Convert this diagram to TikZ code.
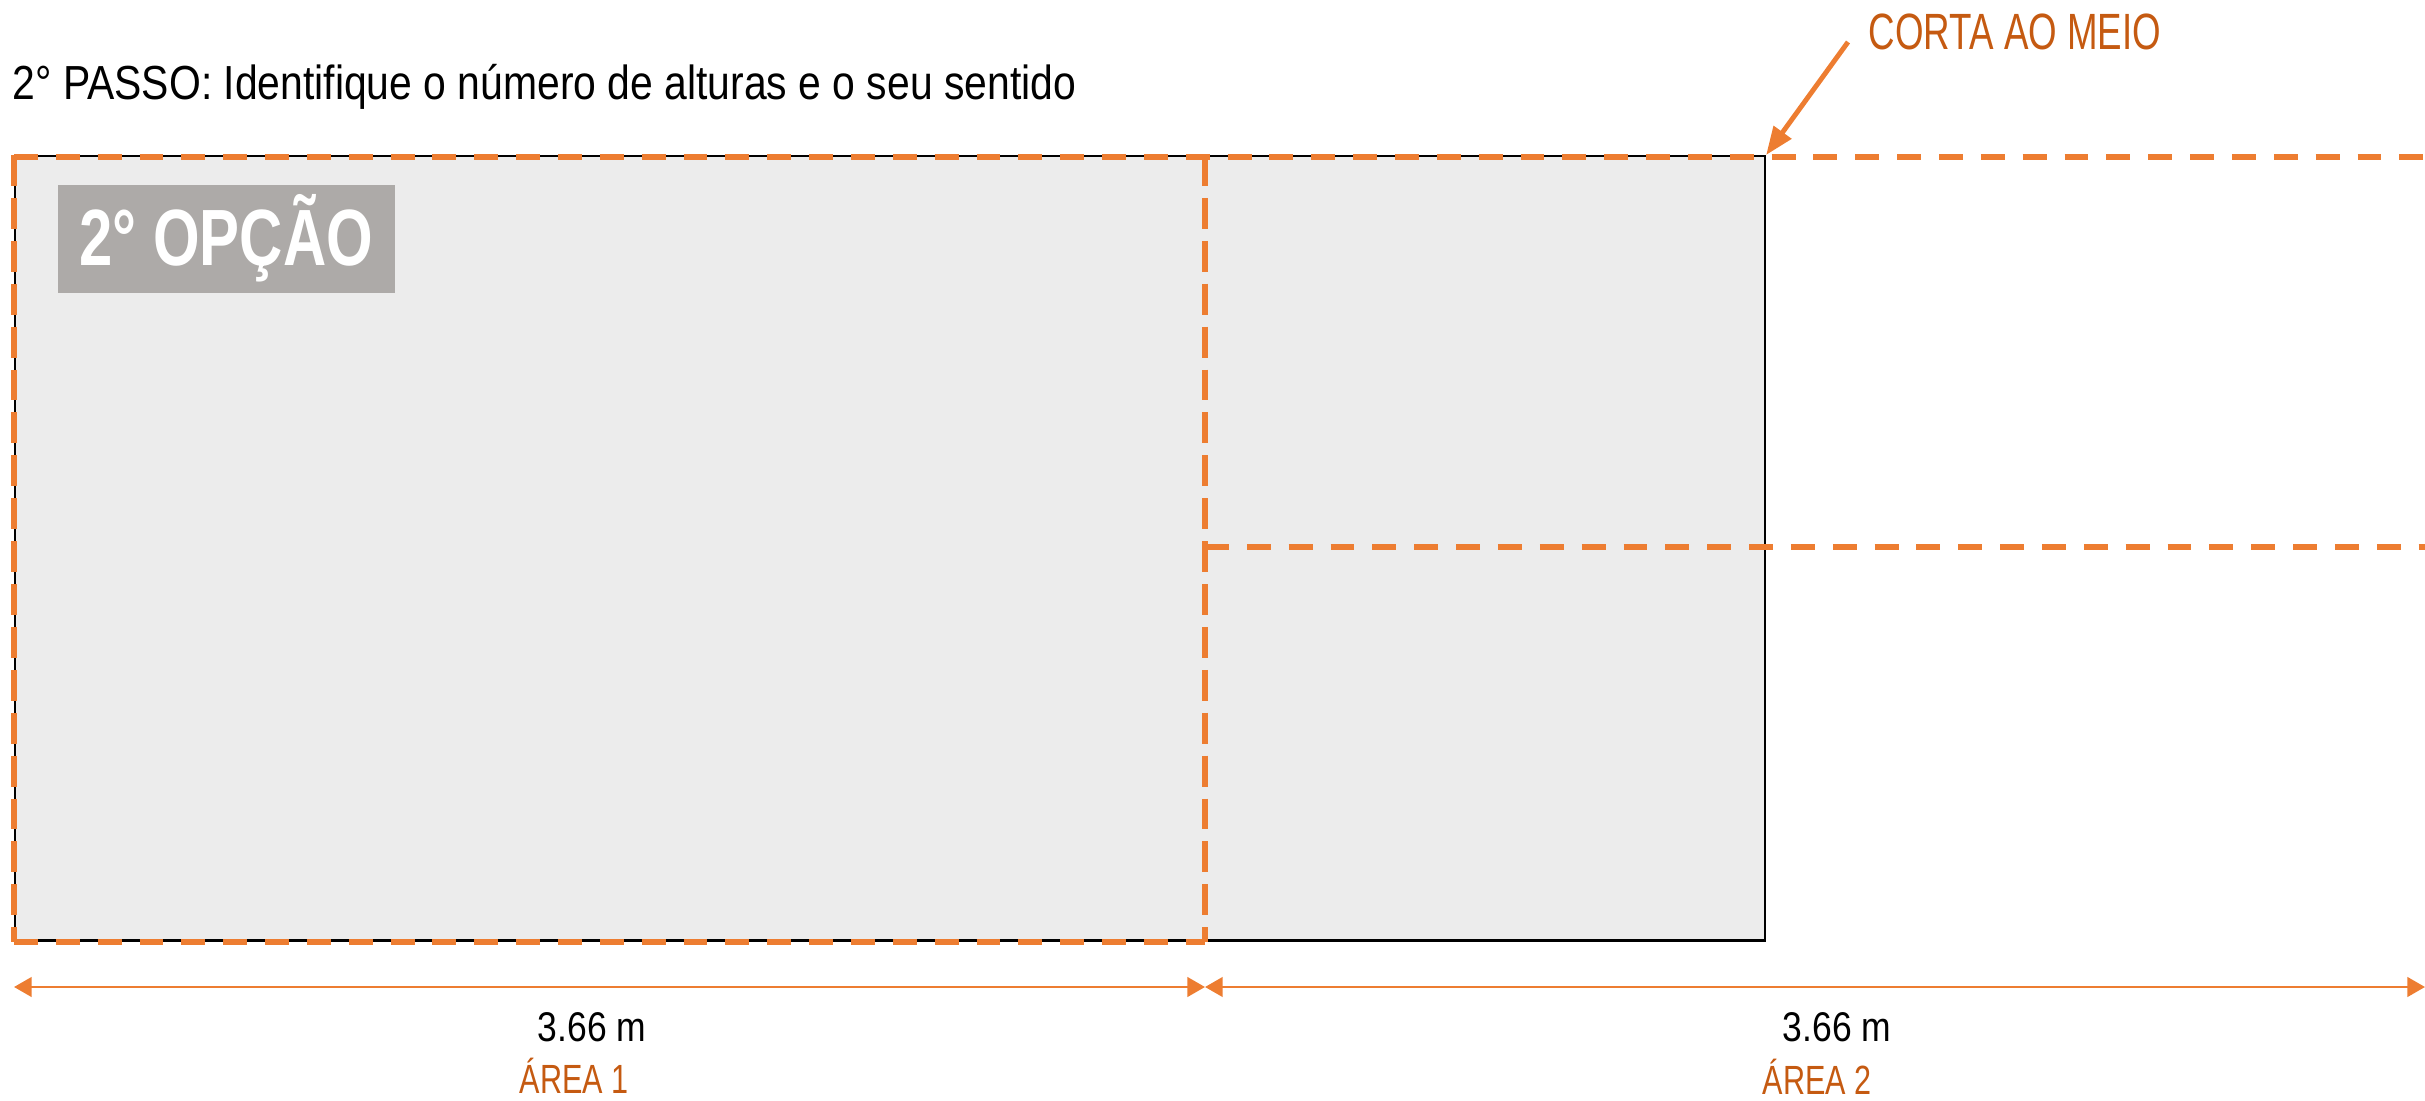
\documentclass[tikz,border=0pt]{standalone}
\usepackage{fontspec}
\setmainfont[FakeStretch=0.855]{Liberation Sans}
\newfontfamily\narrowfont[FakeStretch=0.72]{Liberation Sans}
\newfontfamily\areafont[FakeStretch=0.75]{Liberation Sans}
\usetikzlibrary{arrows.meta,positioning}
\definecolor{cutorange}{HTML}{ED7D31}
\definecolor{labelorange}{HTML}{C55A11}
\definecolor{floorgray}{HTML}{ECECEC}
\definecolor{taggray}{HTML}{ADAAA8}

\begin{document}
\begin{tikzpicture}[x=0.01cm, y=-0.01cm,
  cut/.style={draw=cutorange, line width=1.8pt, dash pattern=on 6.8pt off 5.1pt},
  cutv/.style={draw=cutorange, line width=1.8pt, dash pattern=on 8.8pt off 3.4pt},
  dim/.style={draw=cutorange, line width=0.85pt,
    {Triangle[length=5pt,width=5.5pt]}-{Triangle[length=5pt,width=5.5pt]}},
  area/.style={text=labelorange, font=\areafont\fontsize{11.6}{14}\selectfont, inner sep=0, anchor=base},
  measure/.style={font=\fontsize{11.8}{14}\selectfont, inner sep=0, anchor=base}]

  \useasboundingbox (0,0) rectangle (2425,1101);

  \node[anchor=base west, inner sep=0, font=\fontsize{13.6}{16}\selectfont] (title) at (12,100)
    {2° PASSO: Identifique o número de alturas e o seu sentido};

  % floor and the two areas
  \node[draw, line width=0.6pt, fill=floorgray, anchor=north west, inner sep=0,
        minimum width=17.49cm, minimum height=7.84cm] (floor) at (14,155) {};
  \coordinate (mid top) at (1205,155);
  \coordinate (mid half) at (1205,547);
  \coordinate (mid bot) at (1205,942);
  \coordinate (edge top) at (2425,157);
  \coordinate (edge half) at (2425,547);

  \draw[cut] (floor.north west |- edge top) -- (edge top);
  \draw[cut] (floor.south west |- mid bot) -- (mid bot);
  \draw[cutv] (floor.north west) -- (floor.south west);
  \draw[cutv] (mid top) -- (mid bot);
  \draw[cut] (mid half) -- (edge half);

  \node[fill=taggray, text=white, anchor=north west, inner sep=0,
        minimum width=3.37cm, minimum height=1.08cm,
        font=\areafont\bfseries\fontsize{22.7}{26}\selectfont] (tag) at (57,184) {2° OPÇÃO};

  \node[anchor=base west, inner sep=0, text=labelorange,
        font=\narrowfont\fontsize{14.5}{17}\selectfont] (cutlabel) at (1868,50) {CORTA AO MEIO};
  \draw[cutorange, line width=1.4pt, -{Triangle[length=8pt,width=6pt]}]
    ([xshift=-0.2cm,yshift=0.08cm]cutlabel.base west) -- (floor.north east);

  % dimensions
  \coordinate (d0) at (14,987);
  \coordinate (d1) at (1205,987);
  \coordinate (d2) at (2425,987);
  \draw[dim] (d0) -- (d1);
  \draw[dim] (d1) -- (d2);

  \node[measure] (len1) at (592,1041) {3.66 m};
  \node[measure] (len2) at (1837,1041) {3.66 m};
  \node[area] (area1) at (574,1093) {ÁREA 1};
  \node[area] (area2) at (1817,1094) {ÁREA 2};

\end{tikzpicture}
\end{document}
